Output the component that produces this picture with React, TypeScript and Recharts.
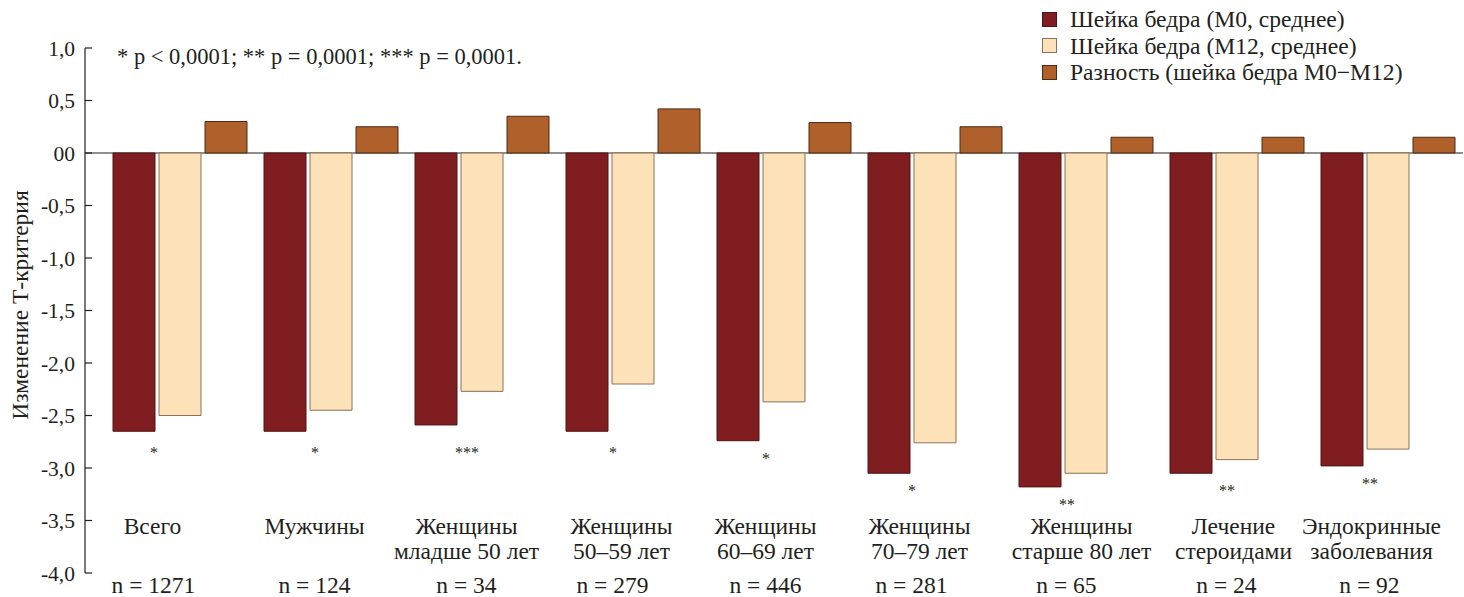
import React from 'react';
import { BarChart, Bar, XAxis, YAxis, CartesianGrid, Legend, LabelList } from 'recharts';

const categoryLine1 = ['Всего', 'Мужчины', 'Женщины', 'Женщины', 'Женщины', 'Женщины', 'Женщины', 'Лечение', 'Эндокринные'];
const categoryLine2 = ['', '', 'младше 50 лет', '50–59 лет', '60–69 лет', '70–79 лет', 'старше 80 лет', 'стероидами', 'заболевания'];
const sampleSizes = ['n = 1271', 'n = 124', 'n = 34', 'n = 279', 'n = 446', 'n = 281', 'n = 65', 'n = 24', 'n = 92'];
const m0Values = [-2.65, -2.65, -2.59, -2.65, -2.74, -3.05, -3.18, -3.05, -2.98];
const m12Values = [-2.5, -2.45, -2.27, -2.2, -2.37, -2.76, -3.05, -2.92, -2.82];
const diffValues = [0.3, 0.25, 0.35, 0.42, 0.29, 0.25, 0.15, 0.15, 0.15];
const significance = ['*', '*', '***', '*', '*', '*', '**', '**', '**'];
const yTicks = [-4, -3.5, -3, -2.5, -2, -1.5, -1, -0.5, 0, 0.5, 1];

const seriesNames = ['Шейка бедра (M0, среднее)', 'Шейка бедра (M12, среднее)', 'Разность (шейка бедра M0−M12)'];
const footnote = '* p < 0,0001; ** p = 0,0001; *** p = 0,0001.';
const yLabel = 'Изменение Т-критерия';

// label x offsets from band centre (px)
const labelDx = [-27, -16, -15, -11, -18, -15, -4, -3, -16];
const sampleDx = [-26, -16, -15, -20, -18, -23, -19, -10, -18];

const COLORS = { m0: '#7f1d21', m12: '#fde2b9', diff: '#b0602a' };
const STROKES = { m0: '#4e1414', m12: '#8a7257', diff: '#4a2a14' };
const TEXT = '#231f20';
const FONT = 'Times New Roman';

const data = categoryLine1.map((l1, i) => ({
  key: String(i),
  m0: m0Values[i],
  m12: m12Values[i],
  diff: diffValues[i],
  sig: significance[i],
}));

const fmtY = (v: number) => (v === 0 ? '00' : v.toFixed(1).replace('.', ','));

const CategoryTick = (props: any) => {
  const { x, y, payload } = props;
  const i = Number(payload.value);
  const cx = x + labelDx[i];
  return (
    <g>
      <text x={cx} y={y - 47} textAnchor="middle" fill={TEXT} fontFamily={FONT} fontSize={23.5}>{categoryLine1[i]}</text>
      {categoryLine2[i] ? (
        <text x={cx} y={y - 22} textAnchor="middle" fill={TEXT} fontFamily={FONT} fontSize={23.5}>{categoryLine2[i]}</text>
      ) : null}
      <text x={x + sampleDx[i]} y={y + 12} textAnchor="middle" fill={TEXT} fontFamily={FONT} fontSize={23.5}>{sampleSizes[i]}</text>
    </g>
  );
};

const StarLabel = (props: any) => {
  const { x, width, y, height, value, index } = props;
  const bottom = Math.max(Number(y), Number(y) + Number(height));
  const baseline = Math.max(bottom + 23, 458);
  return (
    <text x={Number(x) + Number(width) + 25 + sampleDx[index]} y={baseline} textAnchor="middle" fontFamily={FONT} fontSize={16} fill={TEXT}>
      {value}
    </text>
  );
};

const LegendContent = () => {
  const fills = [COLORS.m0, COLORS.m12, COLORS.diff];
  const strokes = [STROKES.m0, STROKES.m12, STROKES.diff];
  return (
    <div style={{ fontFamily: FONT, fontSize: 23.6, color: TEXT }}>
      {seriesNames.map((name, i) => (
        <div key={i} style={{ display: 'flex', alignItems: 'center', height: 26.5 }}>
          <span style={{ display: 'inline-block', width: 13, height: 13, background: fills[i], border: `1px solid ${strokes[i]}`, marginRight: 13 }} />
          <span style={{ lineHeight: '26px' }}>{name}</span>
        </div>
      ))}
    </div>
  );
};

export default function App() {
  return (
    <div style={{ position: 'absolute', left: 0, top: 0, width: 1464, height: 597, background: '#fff' }}>
      <BarChart
        width={1464}
        height={597}
        data={data}
        margin={{ top: 48, right: 1, bottom: 0, left: 0 }}
        barSize={42}
        barGap={4}
      >
        <CartesianGrid vertical={false} horizontalValues={[0]} stroke={TEXT} strokeWidth={1.2} />
        <XAxis
          dataKey="key"
          height={24}
          axisLine={false}
          tickLine={false}
          padding={{ left: 19, right: 0 }}
          tick={<CategoryTick />}
          interval={0}
        />
        <YAxis
          width={85}
          domain={[-4, 1]}
          ticks={yTicks}
          tickFormatter={fmtY}
          tickSize={-7}
          tickMargin={17}
          axisLine={{ stroke: TEXT, strokeWidth: 1.2 }}
          tickLine={{ stroke: TEXT, strokeWidth: 1.2 }}
          tick={{ fill: TEXT, fontSize: 21.5, fontFamily: FONT }}
          interval={0}
          allowDataOverflow
        />
        <Legend
          layout="vertical"
          align="center"
          verticalAlign="middle"
          content={<LegendContent />}
          wrapperStyle={{ top: 6, left: 1042, width: 420, height: 82 }}
        />
        <Bar dataKey="m0" name={seriesNames[0]} fill={COLORS.m0} stroke={STROKES.m0} strokeWidth={1} isAnimationActive={false}>
          <LabelList dataKey="sig" content={<StarLabel />} />
        </Bar>
        <Bar dataKey="m12" name={seriesNames[1]} fill={COLORS.m12} stroke={STROKES.m12} strokeWidth={1} isAnimationActive={false} />
        <Bar dataKey="diff" name={seriesNames[2]} fill={COLORS.diff} stroke={STROKES.diff} strokeWidth={1} isAnimationActive={false} />
      </BarChart>
      <div style={{ position: 'absolute', left: 117, top: 43, fontFamily: FONT, fontSize: 22.5, color: TEXT, whiteSpace: 'nowrap', lineHeight: '28px' }}>
        {footnote}
      </div>
      <div
        style={{
          position: 'absolute',
          left: 20,
          top: 305,
          transform: 'translate(-50%, -50%) rotate(-90deg)',
          fontFamily: FONT,
          fontSize: 23.5,
          color: TEXT,
          whiteSpace: 'nowrap',
          lineHeight: '24px',
        }}
      >
        {yLabel}
      </div>
    </div>
  );
}
